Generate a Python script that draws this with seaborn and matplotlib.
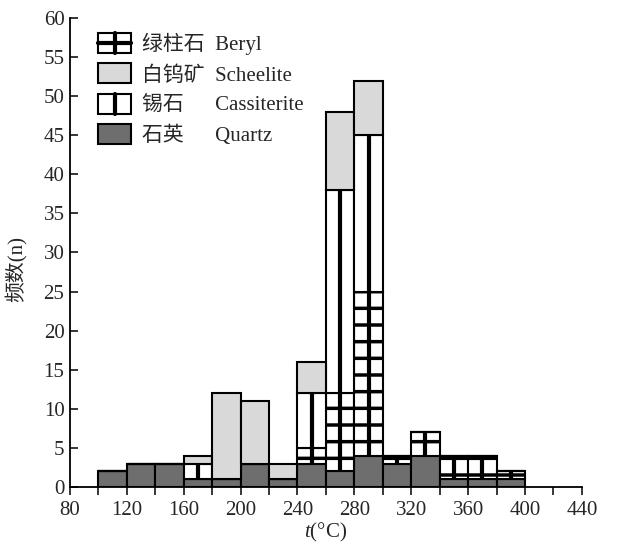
import numpy as np
import pandas as pd
import seaborn as sns
import matplotlib.pyplot as plt
from matplotlib.patches import Patch, Rectangle
from matplotlib.lines import Line2D
from matplotlib.legend_handler import HandlerBase

# 均一温度直方图 (bins of 20 C from 100 to 400)
bin_edges = np.arange(100, 420, 20)
bin_mid = bin_edges[:-1] + 10
quartz      = [2, 3, 3, 1, 1, 3, 1, 3, 2, 4, 3, 4, 1, 1, 1]
beryl       = [0, 0, 0, 0, 0, 0, 0, 2, 10, 21, 1, 3, 3, 3, 1]
cassiterite = [0, 0, 0, 2, 0, 0, 0, 7, 26, 20, 0, 0, 0, 0, 0]
scheelite   = [0, 0, 0, 1, 11, 8, 2, 4, 10, 7, 0, 0, 0, 0, 0]

minerals = ['Beryl', 'Scheelite', 'Cassiterite', 'Quartz']
cn_names = ['绿柱石', '白钨矿', '锡石\u3000', '石英\u3000']
counts = {'Beryl': beryl, 'Scheelite': scheelite,
          'Cassiterite': cassiterite, 'Quartz': quartz}
colors = {'Beryl': 'white', 'Scheelite': '#d9d9d9',
          'Cassiterite': 'white', 'Quartz': '#6e6e6e'}
stack_order = ['Scheelite', 'Cassiterite', 'Beryl', 'Quartz']  # top first

sns.set_theme(style='ticks')
plt.rcParams['font.family'] = ['Liberation Serif', 'Noto Sans CJK SC']
plt.rcParams['mathtext.fontset'] = 'custom'
plt.rcParams['mathtext.it'] = 'Liberation Serif:italic'
plt.rcParams['mathtext.rm'] = 'Liberation Serif'
plt.rcParams['hatch.linewidth'] = 2.5


class LineBoxHandler(HandlerBase):
    # white box with a thick centre line (and optional cross bar)
    def __init__(self, cross=False):
        super().__init__()
        self.cross = cross

    def create_artists(self, legend, orig_handle, xdescent, ydescent,
                       width, height, fontsize, trans):
        x0, y0 = -xdescent, -ydescent
        arts = [Rectangle((x0, y0), width, height, fc='white', ec='black',
                          lw=1.5, transform=trans),
                Line2D([x0 + width / 2] * 2, [y0, y0 + height], color='black',
                       lw=3, transform=trans)]
        if self.cross:
            arts.append(Line2D([x0, x0 + width], [y0 + height / 2] * 2,
                               color='black', lw=3, transform=trans))
        return arts


df = pd.DataFrame({
    'temp': np.tile(bin_mid, len(stack_order)),
    'count': np.concatenate([counts[m] for m in stack_order]),
    'mineral': np.repeat(stack_order, len(bin_mid)),
})

fig = plt.figure(figsize=(6.17, 5.45), dpi=100)
ax = fig.add_axes([0.1135, 0.1064, 0.943 - 0.1135, 0.967 - 0.1064])

sns.histplot(data=df, x='temp', weights='count', hue='mineral',
             hue_order=stack_order, multiple='stack',
             binwidth=20, binrange=(bin_edges[0], bin_edges[-1]),
             palette=colors, alpha=1, edgecolor='black', linewidth=1.5,
             legend=False, ax=ax)

# hatch on beryl bars
for cont in ax.containers:
    h = np.array([p.get_height() for p in cont])
    if np.allclose(h, beryl):
        for p in cont:
            p.set_hatch('-')

# thick centre lines for beryl / cassiterite
q = np.array(quartz)
b = np.array(beryl)
c = np.array(cassiterite)
m = b > 0
ax.vlines(bin_mid[m], q[m], (q + b)[m], color='black', lw=3, zorder=3)
m = c > 0
ax.vlines(bin_mid[m], (q + b)[m], (q + b + c)[m], color='black', lw=3, zorder=3)

ax.set_xlim(80, 440)
ax.set_ylim(0, 60)
ax.set_xticks(np.arange(80, 441, 40))
ax.set_xticks(np.arange(100, 441, 40), minor=True)
ax.set_yticks(np.arange(0, 61, 5))
ax.tick_params(axis='x', which='both', direction='out', length=6, width=1.3,
               labelsize=15, pad=4)
ax.tick_params(axis='y', direction='in', length=6, width=1.3, labelsize=15, pad=4)
sns.despine(ax=ax)
for s in ['left', 'bottom']:
    ax.spines[s].set_linewidth(1.3)
    ax.spines[s].set_color('black')

ax.set_xlabel('$t$(°C)', fontsize=15, labelpad=1)
ax.set_ylabel('频数(n)', fontsize=15)
ax.yaxis.set_label_coords(-0.082, 0.465)

h_beryl = Patch()
h_cass = Patch()
handles = [
    h_beryl,
    Patch(facecolor=colors['Scheelite'], edgecolor='black', lw=1.5),
    h_cass,
    Patch(facecolor=colors['Quartz'], edgecolor='black', lw=1.5),
]
labels = [f'{cn}  {en}' for cn, en in zip(cn_names, minerals)]
fig.legend(handles, labels, loc='upper left', bbox_to_anchor=(98 / 617, 1 - 33 / 545),
           frameon=False, fontsize=15, handlelength=1.6, handleheight=1.1,
           handletextpad=0.5, labelspacing=0.4, borderpad=0, borderaxespad=0,
           handler_map={h_beryl: LineBoxHandler(cross=True),
                        h_cass: LineBoxHandler(cross=False)})

fig.savefig('out.png', dpi=100)
